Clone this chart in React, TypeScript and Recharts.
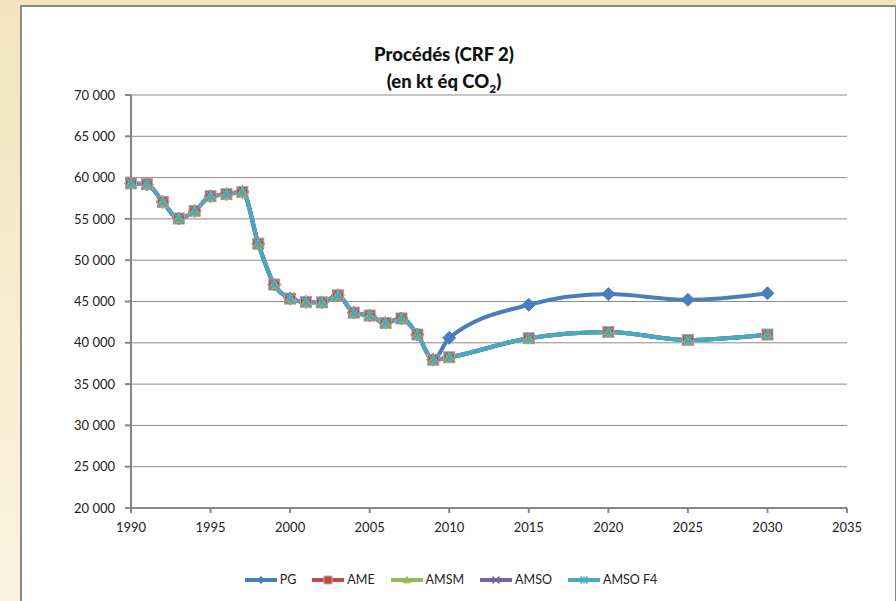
import React from 'react'
import { LineChart, Line, XAxis, YAxis, CartesianGrid, Legend } from 'recharts'

const years = [
  1990, 1991, 1992, 1993, 1994, 1995, 1996, 1997, 1998, 1999, 2000, 2001, 2002,
  2003, 2004, 2005, 2006, 2007, 2008, 2009, 2010, 2015, 2020, 2025, 2030,
]

const pg = [
  59300, 59200, 57050, 55050, 55950, 57750, 58000, 58250, 52000, 47050, 45350,
  44950, 44900, 45750, 43650, 43300, 42400, 42950, 41000, 37950, 40600, 44600,
  45900, 45200, 46000,
]

const ame = [
  59300, 59200, 57050, 55050, 55950, 57750, 58000, 58250, 52000, 47050, 45350,
  44950, 44900, 45750, 43650, 43300, 42400, 42950, 41000, 37950, 38250, 40550,
  41300, 40350, 41000,
]
const amsm = [...ame]
const amso = [...ame]
const amsoF4 = [...ame]

const xTicks = [1990, 1995, 2000, 2005, 2010, 2015, 2020, 2025, 2030, 2035]
const yTicks = [20000, 25000, 30000, 35000, 40000, 45000, 50000, 55000, 60000, 65000, 70000]

const data = years.map((year, i) => ({
  year,
  PG: pg[i],
  AME: ame[i],
  AMSM: amsm[i],
  AMSO: amso[i],
  'AMSO F4': amsoF4[i],
}))

const FONT = 'Lato, "Open Sans", sans-serif'

type MarkerKind = 'diamond' | 'square' | 'triangle' | 'cross' | 'star'

const series: Array<{ key: string; color: string; marker: MarkerKind }> = [
  { key: 'PG', color: '#4A7EBB', marker: 'diamond' },
  { key: 'AME', color: '#BE4B48', marker: 'square' },
  { key: 'AMSM', color: '#98B954', marker: 'triangle' },
  { key: 'AMSO', color: '#7D60A0', marker: 'cross' },
  { key: 'AMSO F4', color: '#46AAC5', marker: 'star' },
]

function Marker ({ kind, cx, cy, color, s }: { kind: MarkerKind; cx: number; cy: number; color: string; s: number }) {
  if (kind === 'diamond') {
    return <path d={`M${cx},${cy - s}L${cx + s},${cy}L${cx},${cy + s}L${cx - s},${cy}Z`} fill={color} stroke={color} />
  }
  if (kind === 'square') {
    return <rect x={cx - s} y={cy - s} width={s * 2} height={s * 2} fill={color} stroke="#D99694" strokeWidth={1} />
  }
  if (kind === 'triangle') {
    return <path d={`M${cx},${cy - s}L${cx + s},${cy + s * 0.8}L${cx - s},${cy + s * 0.8}Z`} fill={color} stroke={color} />
  }
  if (kind === 'cross') {
    return (
      <path
        d={`M${cx - s},${cy - s}L${cx + s},${cy + s}M${cx + s},${cy - s}L${cx - s},${cy + s}`}
        stroke={color}
        strokeWidth={1.5}
        fill="none"
      />
    )
  }
  return (
    <path
      d={`M${cx - s},${cy - s}L${cx + s},${cy + s}M${cx + s},${cy - s}L${cx - s},${cy + s}M${cx},${cy - s}L${cx},${cy + s}`}
      stroke={color}
      strokeWidth={1.5}
      fill="none"
    />
  )
}

const markerSize: Record<MarkerKind, number> = {
  diamond: 6.5,
  square: 5.5,
  triangle: 5.5,
  cross: 5,
  star: 5,
}

function renderLegend () {
  return (
    <div style={{ display: 'flex', justifyContent: 'center', alignItems: 'center', fontFamily: FONT, fontSize: 12.5, color: '#222' }}>
      {series.map((s) => (
        <div key={s.key} style={{ display: 'flex', alignItems: 'center', marginRight: 16 }}>
          <svg width={32} height={12} style={{ marginRight: 3 }}>
            <line x1={0} y1={6} x2={32} y2={6} stroke={s.color} strokeWidth={4} />
            <Marker kind={s.marker} cx={16} cy={6} color={s.color} s={s.marker === 'square' ? 4 : 3.5} />
          </svg>
          <span>{s.key}</span>
        </div>
      ))}
    </div>
  )
}

export default function App () {
  return (
    <div
      style={{
        position: 'absolute',
        left: 0,
        top: 0,
        width: 896,
        height: 601,
        overflow: 'hidden',
        background: 'linear-gradient(180deg, #F3E4BD 0%, #F8EDD1 60%, #FBF3E0 100%)',
      }}
    >
      <div
        style={{
          position: 'absolute',
          left: 20,
          top: 5,
          width: 877,
          height: 620,
          boxSizing: 'border-box',
          border: '2px solid #8A8A8A',
          background: '#fff',
        }}
      >
        <div
          style={{
            position: 'absolute',
            left: 222,
            top: 34,
            width: 400,
            textAlign: 'center',
            fontFamily: FONT,
            fontWeight: 900,
            fontSize: 18.5,
            lineHeight: '27px',
            color: '#111',
          }}
        >
          <div>Procédés (CRF 2)</div>
          <div>
            (en kt éq CO<sub style={{ fontSize: 12, lineHeight: 0 }}>2</sub>)
          </div>
        </div>
        <LineChart
          width={871}
          height={594}
          data={data}
          margin={{ top: 88, right: 46, bottom: 9, left: 49 }}
          style={{ position: 'absolute', left: 0, top: 0 }}
        >
          <CartesianGrid vertical={false} stroke="#8C8C8C" strokeWidth={1} />
          <XAxis
            dataKey="year"
            type="number"
            domain={[1990, 2035]}
            ticks={xTicks}
            height={64}
            tickSize={5}
            tickMargin={10}
            stroke="#868686"
            strokeWidth={2}
            tick={{ fill: '#222', fontSize: 13, fontFamily: FONT }}
          />
          <YAxis
            type="number"
            domain={[20000, 70000]}
            ticks={yTicks}
            width={60}
            tickSize={6}
            tickMargin={10}
            stroke="#868686"
            strokeWidth={2}
            tickFormatter={(v: number) => `${Math.floor(v / 1000)} 000`}
            tick={{ fill: '#222', fontSize: 13, fontFamily: FONT }}
          />
          {series.map((s) => (
            <Line
              key={s.key}
              dataKey={s.key}
              type="monotone"
              stroke={s.color}
              strokeWidth={4}
              isAnimationActive={false}
              dot={(p: any) => (
                <Marker
                  key={`${s.key}-${p.index}`}
                  kind={s.marker}
                  cx={p.cx}
                  cy={p.cy}
                  color={s.color}
                  s={markerSize[s.marker]}
                />
              )}
              activeDot={false}
            />
          ))}
          <Legend verticalAlign="bottom" height={20} content={renderLegend} />
        </LineChart>
      </div>
    </div>
  )
}
